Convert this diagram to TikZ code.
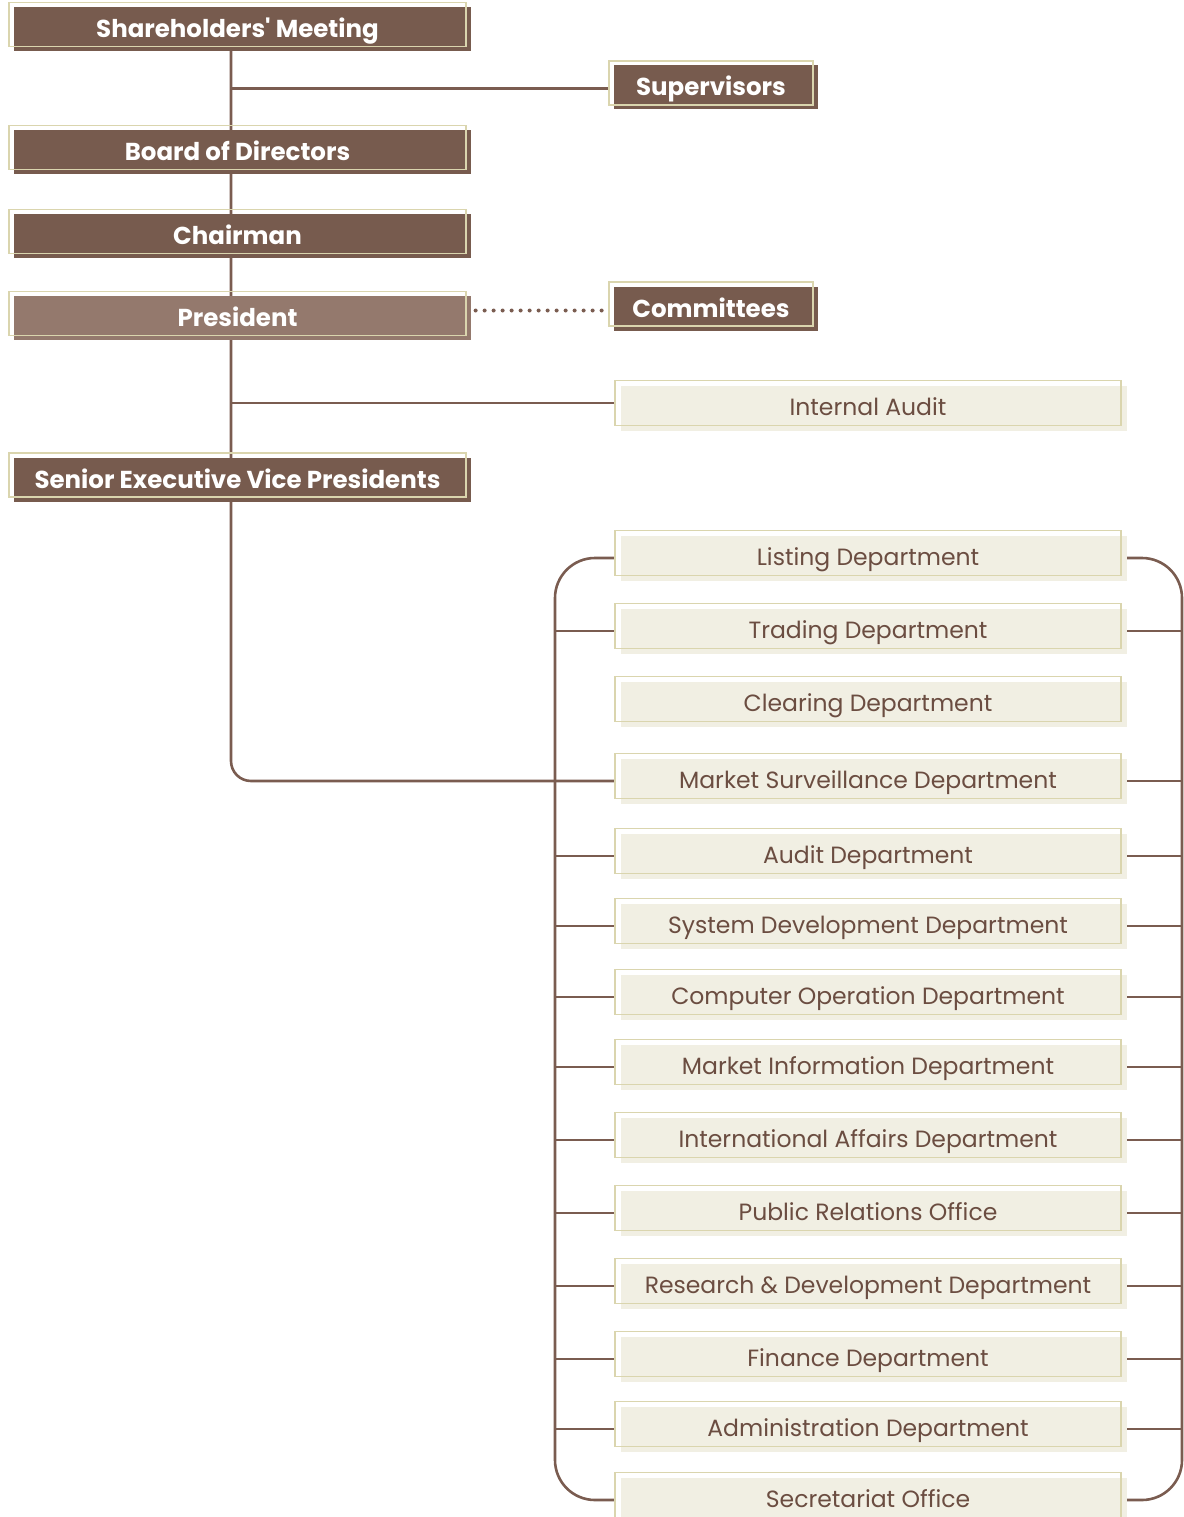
\documentclass[tikz,border=0pt]{standalone}
\usepackage{fontspec}
\setmainfont{Poppins}
\usetikzlibrary{shadows, backgrounds, calc}
\definecolor{krxbrown}{HTML}{775B4E}
\definecolor{krxtaupe}{HTML}{94796D}
\definecolor{krxbeige}{HTML}{DAD5AE}
\definecolor{krxcream}{HTML}{F1EFE3}
\definecolor{krxline}{HTML}{7A5C50}
\definecolor{krxtext}{HTML}{6B4D41}

\begin{document}
\begin{tikzpicture}[x=1pt, y=-1pt,
  outlined/.style={draw=krxbeige, line width=1.2pt, inner sep=0pt},
  headbox/.style={outlined, minimum width=457pt, minimum height=44pt,
    text=white, font=\bfseries\fontsize{24.5}{28}\selectfont,
    text height=26pt, text depth=0pt,
    general shadow={fill=#1, shadow xshift=5pt, shadow yshift=-4.5pt}},
  headbox/.default=krxbrown,
  deptbox/.style={outlined, minimum width=506pt, minimum height=45pt,
    text=krxtext, font=\fontsize{23.5}{27}\selectfont,
    text height=25pt, text depth=0pt,
    general shadow={fill=krxcream, shadow xshift=6pt, shadow yshift=-5pt}},
  link/.style={draw=krxline, line width=2.6pt},
  dotlink/.style={draw=krxline, line width=4pt, line cap=round,
    dash pattern=on 0pt off 9pt}]
  \useasboundingbox (0,0) rectangle (1183,1517);

  % Governance column
  \node[headbox] (share) at (237.5,24.5) {Shareholders\textquotesingle\ Meeting};
  \node[headbox] (board) at (237.5,147.5) {Board of Directors};
  \node[headbox] (chair) at (237.5,231.5) {Chairman};
  \node[headbox=krxtaupe] (pres) at (237.5,313.5) {President};
  \node[headbox] (sevp) at (237.5,475) {Senior Executive Vice Presidents};

  % Side boxes
  \node[headbox, minimum width=204pt] (superv) at (711,83) {Supervisors};
  \node[headbox, minimum width=204pt] (comm) at (711,304) {Committees};
  \node[deptbox] (ia) at (868,403) {Internal Audit};

  % Departments
  \foreach \name/\ypos/\label in {
      list/553/Listing Department,
      trad/626/Trading Department,
      clear/699/Clearing Department,
      ms/776/Market Surveillance Department,
      audit/851/Audit Department,
      sys/921/System Development Department,
      comp/992/Computer Operation Department,
      minfo/1062/Market Information Department,
      intl/1135/International Affairs Department,
      pr/1208/Public Relations Office,
      rnd/1281/Research \& Development Department,
      fin/1354/Finance Department,
      admin/1424/Administration Department,
      secr/1495/Secretariat Office} {
    \node[deptbox] (\name) at (868,\ypos) {\label};
    \coordinate (\name L) at ([yshift=-5pt]\name.west);
    \coordinate (\name R) at ([yshift=-5pt]\name.east);
  }

  \coordinate (trunk) at (231,0);
  \coordinate (lbar) at (555,0);
  \coordinate (rbar) at (1182,0);
  \coordinate (supL) at ([yshift=-5.5pt]superv.west);
  \coordinate (comL) at ([yshift=-6.5pt]comm.west);

  \begin{scope}[on background layer]
    % Main line of command
    \draw[link, rounded corners=20pt] (share.south -| trunk) -- (msL -| trunk) -- (msL);
    \draw[link] (supL -| trunk) -- (supL);
    \draw[link] (ia.west -| trunk) -- (ia.west);
    \draw[dotlink, shorten <=9pt, shorten >=3pt] (comL -| pres.east) -- (comL);

    % Department brackets
    \draw[link, rounded corners=40pt] (listL) -- (listL -| lbar) -- (secrL -| lbar) -- (secrL);
    \draw[link, rounded corners=40pt] (listR) -- (listR -| rbar) -- (secrR -| rbar) -- (secrR);
    \foreach \name in {trad, audit, sys, comp, minfo, intl, pr, rnd, fin, admin} {
      \draw[link] (\name L -| lbar) -- (\name L);
    }
    \foreach \name in {trad, ms, audit, sys, comp, minfo, intl, pr, rnd, fin, admin} {
      \draw[link] (\name R) -- (\name R -| rbar);
    }
  \end{scope}
\end{tikzpicture}
\end{document}
